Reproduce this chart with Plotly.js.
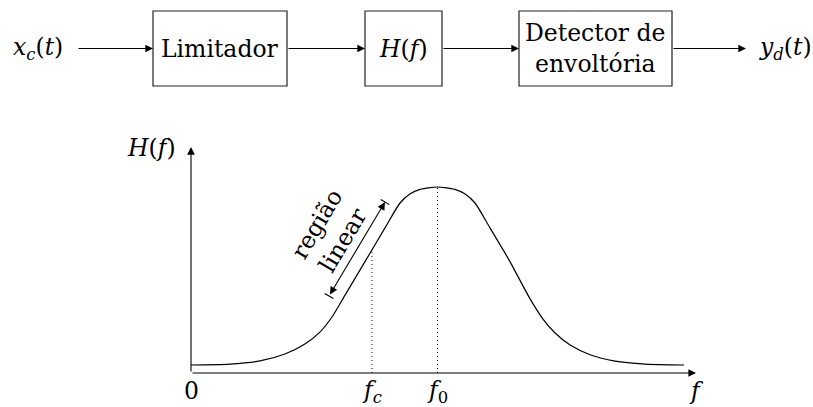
<!DOCTYPE html>
<html><head><meta charset="utf-8">
<script src="https://cdn.plot.ly/plotly-3.0.1.min.js"></script>
<style>html,body{margin:0;padding:0;background:#fff}</style>
</head><body><div id="chart" style="width:813px;height:407px"></div>
<script>
// ---------- data ----------
// frequency response H(f): f in units of f0, H normalised to peak
const fLeft  = [0, 0.158, 0.280, 0.381, 0.462, 0.523, 0.572, 0.625, 0.710, 0.787, 0.848, 0.888, 0.929, 0.970, 1.000];
const HLeft  = [0.043, 0.048, 0.065, 0.102, 0.156, 0.220, 0.301, 0.419, 0.608, 0.780, 0.914, 0.962, 0.987, 0.997, 1.000];
const fRight = [1.030, 1.071, 1.112, 1.152, 1.213, 1.290, 1.375, 1.428, 1.477, 1.538, 1.619, 1.720, 1.842, 2.000];
const HRight = [0.997, 0.987, 0.962, 0.914, 0.780, 0.608, 0.400, 0.290, 0.215, 0.150, 0.098, 0.064, 0.048, 0.043];
const fc = 0.734, f0 = 1.0, fMax = 2.049, HMax = 1.215, HAtFc = 0.65;
const tickPos    = [0, fc, f0, fMax];
const tickLabels = ['0', '<i>f</i><sub><i>c</i></sub>', '<i>f</i><sub>0</sub>', '<i>f</i>'];
const yLabel = '<i>H</i>(<i>f</i>)';
const regionStart = [0.560, 0.414], regionEnd = [0.787, 0.919];
const regionText = ['região', 'linear'];
const regionTextPos = [[0.511, 0.801], [0.617, 0.715]];

// block diagram texts
const blockLabels = ['Limitador', '<i>H</i>(<i>f</i>)', 'Detector de<br>envoltória'];
const inputLabel  = '<i>x</i><sub><i>c</i></sub>(<i>t</i>)';
const outputLabel = '<i>y</i><sub><i>d</i></sub>(<i>t</i>)';

// ---------- layout geometry (pixels) ----------
const W = 813, H = 407;
const x0px = 191, pxPerF = 246.5, y0px = 373, pxPerH = 186;
const boxes = [[153, 287], [365, 442], [519, 672]];
const boxTop = 11, boxBot = 86, midY = 48.5;
const inX = 38, outX = 785, inArrow = [77, 153], outArrow = [672, 746];
const FONT = 'DejaVu Serif', FS = 23.5;

const f = fLeft.concat(fRight), Hv = HLeft.concat(HRight);
const traces = [
  {x: f, y: Hv, mode: 'lines', line: {color: '#000', width: 1.2, shape: 'spline', smoothing: 0.7}, hoverinfo: 'skip'},
  {x: [fc, fc], y: [0, HAtFc], mode: 'lines', line: {color: '#000', width: 1, dash: '1px,3px'}, hoverinfo: 'skip'},
  {x: [f0, f0], y: [0, 1], mode: 'lines', line: {color: '#000', width: 1, dash: '1px,3px'}, hoverinfo: 'skip'},
  {x: [0], y: [0], xaxis: 'x2', yaxis: 'y2', mode: 'markers', marker: {opacity: 0}, hoverinfo: 'skip'}
];

const ann = [], shapes = [];
const txt = (t, x, y, xref, yref, extra) => Object.assign({text: t, x: x, y: y, xref: xref, yref: yref, showarrow: false,
  font: {family: FONT, size: FS, color: '#000'}}, extra || {});
const arr = (x, y, ax, ay, xref, yref, extra) => Object.assign({text: '', x: x, y: y, ax: ax, ay: ay, xref: xref, yref: yref,
  axref: xref, ayref: yref, showarrow: true, arrowhead: 2, arrowsize: 1.4, arrowwidth: 1.1, arrowcolor: '#000', standoff: 0}, extra || {});

// axes with arrowheads
ann.push(arr(fMax, 0, 0, 0, 'x', 'y'));
ann.push(arr(0, HMax, 0, 0, 'x', 'y'));
// tick labels
tickLabels.forEach((t, i) => ann.push(txt(t, tickPos[i], 0, 'x', 'y', {yanchor: 'middle', yshift: -18})));
ann.push(txt(yLabel, -0.162, 1.21, 'x', 'y'));
// region arrow
ann.push(arr(regionEnd[0], regionEnd[1], regionStart[0], regionStart[1], 'x', 'y', {arrowside: 'end+start', startarrowhead: 2, startarrowsize: 1.4, arrowsize: 1.4}));
// end bars perpendicular to arrow
(function () {
  const dxp = (regionEnd[0] - regionStart[0]) * pxPerF, dyp = (regionEnd[1] - regionStart[1]) * pxPerH;
  const L = Math.hypot(dxp, dyp), px = -dyp / L, py = dxp / L, hl = 5;
  [regionStart, regionEnd].forEach(p => {
    shapes.push({type: 'line', xref: 'x', yref: 'y', x0: p[0] - px * hl / pxPerF, y0: p[1] - py * hl / pxPerH,
      x1: p[0] + px * hl / pxPerF, y1: p[1] + py * hl / pxPerH, line: {color: '#000', width: 1.1}});
  });
  const ang = -Math.atan2(dyp, dxp) * 180 / Math.PI;
  regionText.forEach((t, i) => ann.push(txt(t, regionTextPos[i][0], regionTextPos[i][1], 'x', 'y', {textangle: ang})));
})();

// block diagram
boxes.forEach((b, i) => {
  shapes.push({type: 'rect', xref: 'x2', yref: 'y2', x0: b[0], x1: b[1], y0: boxTop, y1: boxBot, line: {color: '#222', width: 1.2}});
  ann.push(txt(blockLabels[i], (b[0] + b[1]) / 2, midY, 'x2', 'y2'));
});
ann.push(txt(inputLabel, inX, midY, 'x2', 'y2'));
ann.push(txt(outputLabel, outX, midY, 'x2', 'y2'));
ann.push(arr(inArrow[1], midY, inArrow[0], midY, 'x2', 'y2'));
for (let i = 0; i < boxes.length - 1; i++) ann.push(arr(boxes[i + 1][0], midY, boxes[i][1], midY, 'x2', 'y2'));
ann.push(arr(outArrow[1], midY, outArrow[0], midY, 'x2', 'y2'));

const hid = {visible: false, showgrid: false, zeroline: false, fixedrange: true};
const layout = {
  width: W, height: H, margin: {l: 0, r: 0, t: 0, b: 0}, showlegend: false,
  paper_bgcolor: '#fff', plot_bgcolor: '#fff',
  xaxis: Object.assign({range: [-x0px / pxPerF, (W - x0px) / pxPerF]}, hid),
  yaxis: Object.assign({range: [-(H - y0px) / pxPerH, y0px / pxPerH]}, hid),
  xaxis2: Object.assign({range: [0, W], overlaying: 'x'}, hid),
  yaxis2: Object.assign({range: [H, 0], overlaying: 'y'}, hid),
  annotations: ann, shapes: shapes
};
Plotly.newPlot('chart', traces, layout, {staticPlot: true, displayModeBar: false});
</script></body></html>
